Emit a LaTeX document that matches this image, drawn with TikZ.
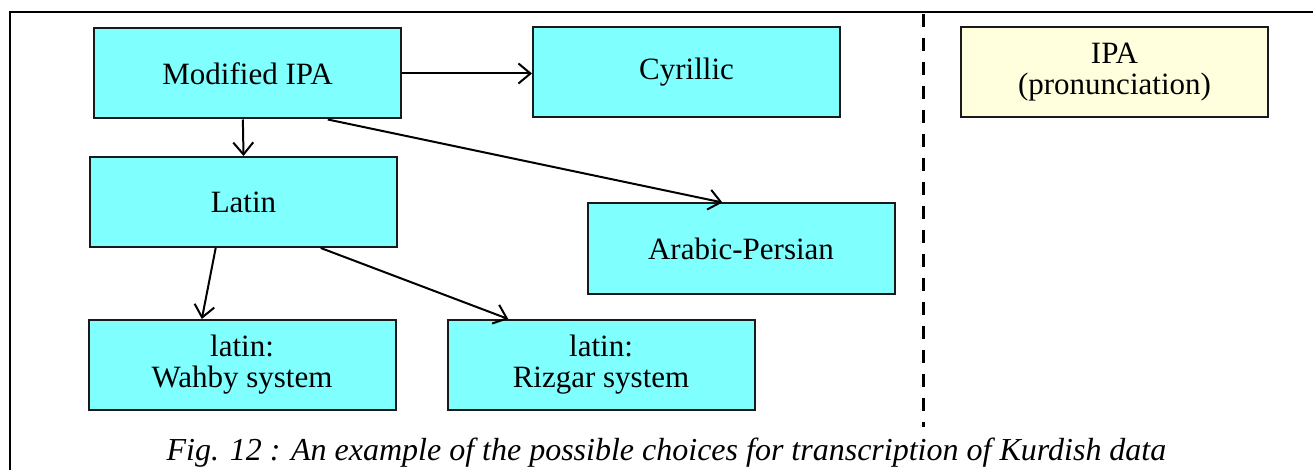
\documentclass[tikz,border=0pt]{standalone}
\usepackage{fontspec}
\setmainfont{Liberation Serif}
\usetikzlibrary{arrows.meta,calc}
\definecolor{boxcyan}{HTML}{80FFFF}
\definecolor{boxyellow}{HTML}{FFFFDD}
\definecolor{edge}{HTML}{1A1A1A}
\tikzset{
  diabox/.style={draw=edge, line width=2pt, fill=boxcyan, minimum width=307pt, minimum height=90pt,
    inner sep=0pt, align=center, font=\fontsize{31}{31}\selectfont},
  notebox/.style={diabox, fill=boxyellow},
  conn/.style={line width=2pt, -{Straight Barb[length=12pt,width=20pt,line width=2pt]}},
}
\begin{document}
\begin{tikzpicture}[x=1pt,y=-1pt]
\useasboundingbox (0,0) rectangle (1313,470);
\fill[white] (0,0) rectangle (1313,470);
% frame
\draw[line width=2.5pt] (10,480) -- (10,12) -- (1320,12);
% boxes
\node[diabox] (mipa) at (247.5,73.5) {Modified IPA};
\node[diabox] (cyr) at (686.5,72) {Cyrillic};
\node[diabox] (latin) at (243.5,202) {Latin};
\node[diabox] (arab) at (741,248.5) {Arabic-Persian};
\node[diabox] (wahby) at (242,365) {latin:\\Wahby system};
\node[diabox] (rizgar) at (601,365) {latin:\\Rizgar system};
\node[notebox] (ipa) at (1114.5,72) {IPA\\(pronunciation)};
% divider
\coordinate (dtop) at (923,14);
\coordinate (dbot) at (923,427);
\draw[line width=3pt, dash pattern=on 13pt off 11pt] (dtop) -- (dbot);
% connectors
\draw[conn] (mipa.east) -- (cyr.west |- mipa.east);
\draw[conn] ($(mipa.south west)!0.485!(mipa.south east)$) -- ($(latin.north west)!0.5!(latin.north east)$);
\draw[conn] ($(mipa.south west)!0.76!(mipa.south east)$) -- ($(arab.north west)!0.44!(arab.north east)$);
\draw[conn] ($(latin.south west)!0.41!(latin.south east)$) -- ($(wahby.north west)!0.37!(wahby.north east)$);
\draw[conn] ($(latin.south west)!0.75!(latin.south east)$) -- ($(rizgar.north west)!0.2!(rizgar.north east)$);
% caption
\node[anchor=base, font=\fontsize{32}{36}\selectfont\itshape, inner sep=0pt] (cap) at (666.5,460)
  {Fig. 12 : An example of the possible choices for transcription of Kurdish data};
\end{tikzpicture}
\end{document}
